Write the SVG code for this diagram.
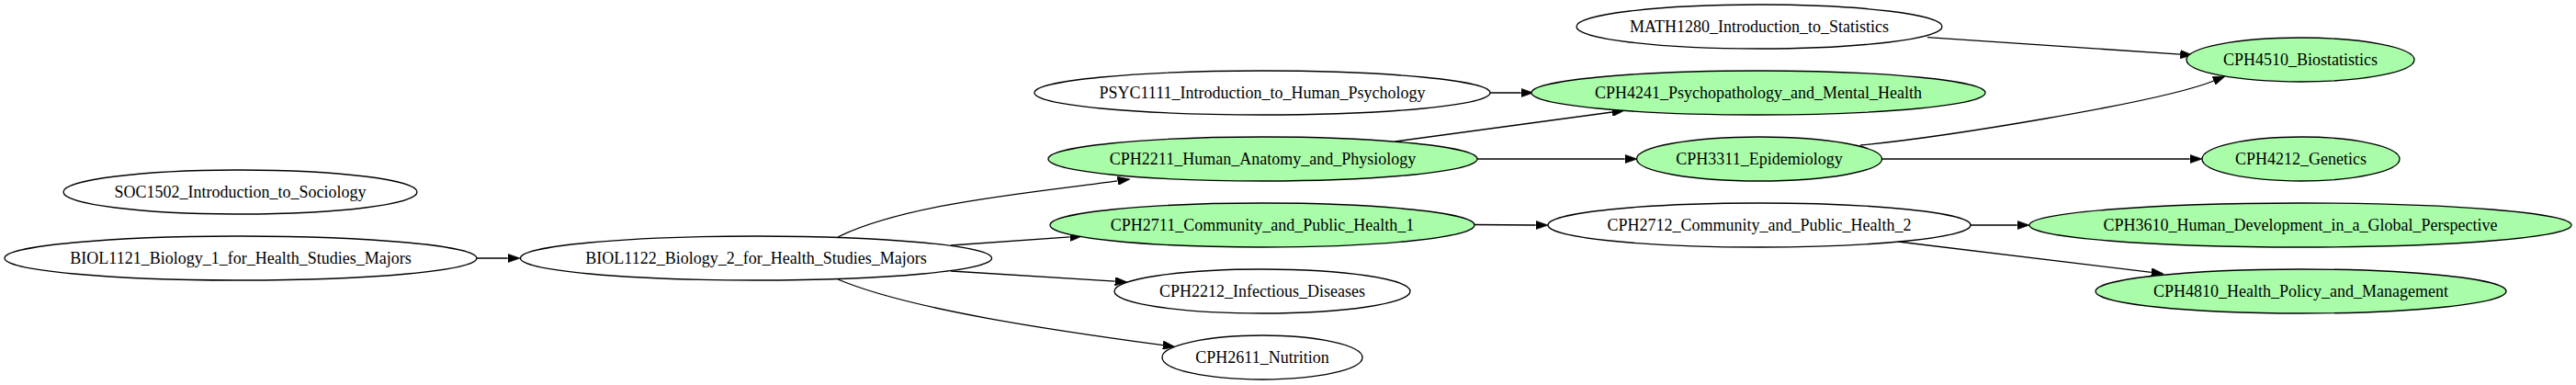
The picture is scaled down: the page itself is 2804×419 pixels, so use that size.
<svg xmlns="http://www.w3.org/2000/svg" width="2804" height="419" viewBox="0 0 2804 419">
<style>
.n ellipse{stroke:#000;stroke-width:1.33;fill:#fff}
.g ellipse{fill:#a9fda9}
.n text{font-family:"Liberation Serif","Times New Roman",serif;font-size:18px;text-anchor:middle;fill:#000}
#edges path{fill:none;stroke:#000;stroke-width:1.33;marker-end:url(#ah)}
</style>
<defs>
<marker id="ah" viewBox="0 0 10 7" refX="0" refY="3.5" markerWidth="13.33" markerHeight="9.33" markerUnits="userSpaceOnUse" orient="auto">
<path d="M0,0 L10,3.5 L0,7 z" fill="#000" stroke="#000" stroke-width="0.5"/>
</marker>
</defs>
<rect width="2804" height="419" fill="#fff"/>
<g id="edges">
<path d="M519,281 L552.7,281"/>
<path d="M912,258 C985,222 1120,210 1216.6,196.9"/>
<path d="M1035,267 L1164.7,257.9"/>
<path d="M1035,295 L1213.7,306.2"/>
<path d="M912,304 C990,337 1150,360 1265.9,375.7"/>
<path d="M1622,101 L1655.7,101"/>
<path d="M1518.6,154 L1755,122"/>
<path d="M1608,173 L1768.7,173"/>
<path d="M2098,40.7 L2373.3,59.1"/>
<path d="M2025,158 C2110,150 2350,112 2409.7,88"/>
<path d="M2049,173 L2383.7,173"/>
<path d="M1605,244.5 L1671.7,245"/>
<path d="M2145,245 L2195.7,245"/>
<path d="M2066,263 L2341.8,296.4"/>
</g>
<g id="SOC1502" class="n"><ellipse cx="261.5" cy="209" rx="192.5" ry="24"/><text x="261.5" y="215">SOC1502_Introduction_to_Sociology</text></g>
<g id="BIOL1121" class="n"><ellipse cx="262" cy="281" rx="257" ry="24"/><text x="262" y="287">BIOL1121_Biology_1_for_Health_Studies_Majors</text></g>
<g id="BIOL1122" class="n"><ellipse cx="823" cy="281" rx="256.5" ry="24"/><text x="823" y="287">BIOL1122_Biology_2_for_Health_Studies_Majors</text></g>
<g id="PSYC1111" class="n"><ellipse cx="1374" cy="101" rx="248" ry="24"/><text x="1374" y="107">PSYC1111_Introduction_to_Human_Psychology</text></g>
<g id="CPH2211" class="n g"><ellipse cx="1374.5" cy="173" rx="233.5" ry="24"/><text x="1374.5" y="179">CPH2211_Human_Anatomy_and_Physiology</text></g>
<g id="CPH2711" class="n g"><ellipse cx="1374" cy="245" rx="231" ry="24"/><text x="1374" y="251">CPH2711_Community_and_Public_Health_1</text></g>
<g id="CPH2212" class="n"><ellipse cx="1374" cy="317" rx="161" ry="24"/><text x="1374" y="323">CPH2212_Infectious_Diseases</text></g>
<g id="CPH2611" class="n"><ellipse cx="1374" cy="389" rx="109" ry="24"/><text x="1374" y="395">CPH2611_Nutrition</text></g>
<g id="MATH1280" class="n"><ellipse cx="1915" cy="29" rx="199" ry="24"/><text x="1915" y="35">MATH1280_Introduction_to_Statistics</text></g>
<g id="CPH4241" class="n g"><ellipse cx="1914" cy="101" rx="247" ry="24"/><text x="1914" y="107">CPH4241_Psychopathology_and_Mental_Health</text></g>
<g id="CPH3311" class="n g"><ellipse cx="1915" cy="173" rx="133.5" ry="24"/><text x="1915" y="179">CPH3311_Epidemiology</text></g>
<g id="CPH2712" class="n"><ellipse cx="1915" cy="245" rx="230" ry="24"/><text x="1915" y="251">CPH2712_Community_and_Public_Health_2</text></g>
<g id="CPH4510" class="n g"><ellipse cx="2504" cy="65" rx="124" ry="24"/><text x="2504" y="71">CPH4510_Biostatistics</text></g>
<g id="CPH4212" class="n g"><ellipse cx="2504.5" cy="173" rx="107.5" ry="24"/><text x="2504.5" y="179">CPH4212_Genetics</text></g>
<g id="CPH3610" class="n g"><ellipse cx="2504" cy="245" rx="295" ry="24"/><text x="2504" y="251">CPH3610_Human_Development_in_a_Global_Perspective</text></g>
<g id="CPH4810" class="n g"><ellipse cx="2504.5" cy="317" rx="223.5" ry="24"/><text x="2504.5" y="323">CPH4810_Health_Policy_and_Management</text></g>
</svg>
